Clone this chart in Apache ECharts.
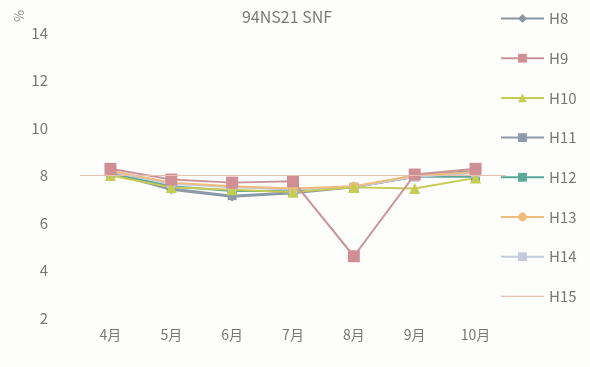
<!DOCTYPE html>
<html><head><meta charset="utf-8">
<script src="https://cdn.jsdelivr.net/npm/echarts@6/dist/echarts.min.js"></script>
<style>html,body{margin:0;padding:0;background:#fdfdfb}#c{width:590px;height:367px}</style>
</head><body><div id="c"></div>
<script>
const categories = ['4月','5月','6月','7月','8月','9月','10月'];
const yTicks = [2,4,6,8,10,12,14];
const H8  = [8.10, 7.40, 7.10, 7.25, 7.50, 8.00, 8.20];
const H9  = [8.28, 7.83, 7.70, 7.76, 4.60, 8.04, 8.28];
const H10 = [8.00, 7.50, 7.40, 7.30, 7.50, 7.45, 7.90];
const H11 = [8.15, 7.45, 7.15, 7.30, 7.50, 7.95, 8.15];
const H12 = [8.10, 7.55, 7.35, 7.35, 7.50, 7.95, 7.95];
const H13 = [8.20, 7.70, 7.55, 7.45, 7.55, 8.00, 8.15];
const H14 = [8.15, 7.65, 7.50, 7.40, 7.50, 7.95, 8.10];
const H15 = [8.00, 8.00, 8.00, 8.00, 8.00, 8.00, 8.00];

const font = '"Noto Sans CJK JP","Noto Sans",sans-serif';
function s(name, data, color, symbol, size, extra) {
  return Object.assign({
    name, type:'line', data, symbol, symbolSize:size,
    itemStyle:{color}, lineStyle:{color, width:2}, z:2
  }, extra||{});
}
const series = [
  s('H8', H8, '#8a96a0', 'diamond', 9),
  s('H11', H11, '#8d9aaa', 'rect', 9),
  s('H12', H12, '#5aa898', 'rect', 9),
  s('H14', H14, '#c5c9dc', 'rect', 9),
  s('H13', H13, '#f0bc7c', 'circle', 9),
  s('H10', H10, '#c6cc52', 'triangle', 11),
  s('H9', H9, '#c98a8e', 'rect', 12, {itemStyle:{color:'#cf8f95'}, lineStyle:{color:'#c9959a', width:2}}),
  s('H15', H15, '#e8b8a8', 'none', 0, {lineStyle:{color:'#e6bfb0', width:1}, z:1,
     markLine:{silent:true, symbol:'none', label:{show:false}, lineStyle:{color:'#e6bfb0', width:1, type:'solid'}, data:[{type:'average'}]}})
];
const legendOrder = ['H8','H9','H10','H11','H12','H13','H14',
  {name:'H15', icon:'path://M0,0 L42,0 L42,1.2 L0,1.2 Z', itemStyle:{color:'#e6bfb0'}}];
const chart = echarts.init(document.getElementById('c'));
chart.setOption({
  backgroundColor:'#fdfdfb',
  animation:false,
  title:{text:'94NS21 SNF', left:282, top:4, textAlign:'center',
    textStyle:{color:'#7a7a7a', fontSize:16, fontWeight:'normal', fontFamily:font}},
  graphic:[{type:'text', left:12, top:10, rotation:-Math.PI/2,
    style:{text:'%', fill:'#888', fontSize:13, fontFamily:font}}],
  legend:{orient:'vertical', left:495, top:6, itemGap:24.7, itemWidth:43, itemHeight:11,
    data:legendOrder, textStyle:{color:'#777', fontSize:15, fontFamily:font}},
  grid:{left:80, right:84, top:33, bottom:49},
  xAxis:{type:'category', data:categories, boundaryGap:true,
    axisLine:{show:false}, axisTick:{show:false},
    axisLabel:{color:'#777', fontSize:14, fontFamily:font, margin:10}},
  yAxis:{type:'value', min:yTicks[0], max:yTicks[yTicks.length-1], interval:2,
    axisLine:{show:false}, axisTick:{show:false}, splitLine:{show:false},
    axisLabel:{color:'#777', fontSize:15, fontFamily:font, margin:32}},
  series
});
</script></body></html>
